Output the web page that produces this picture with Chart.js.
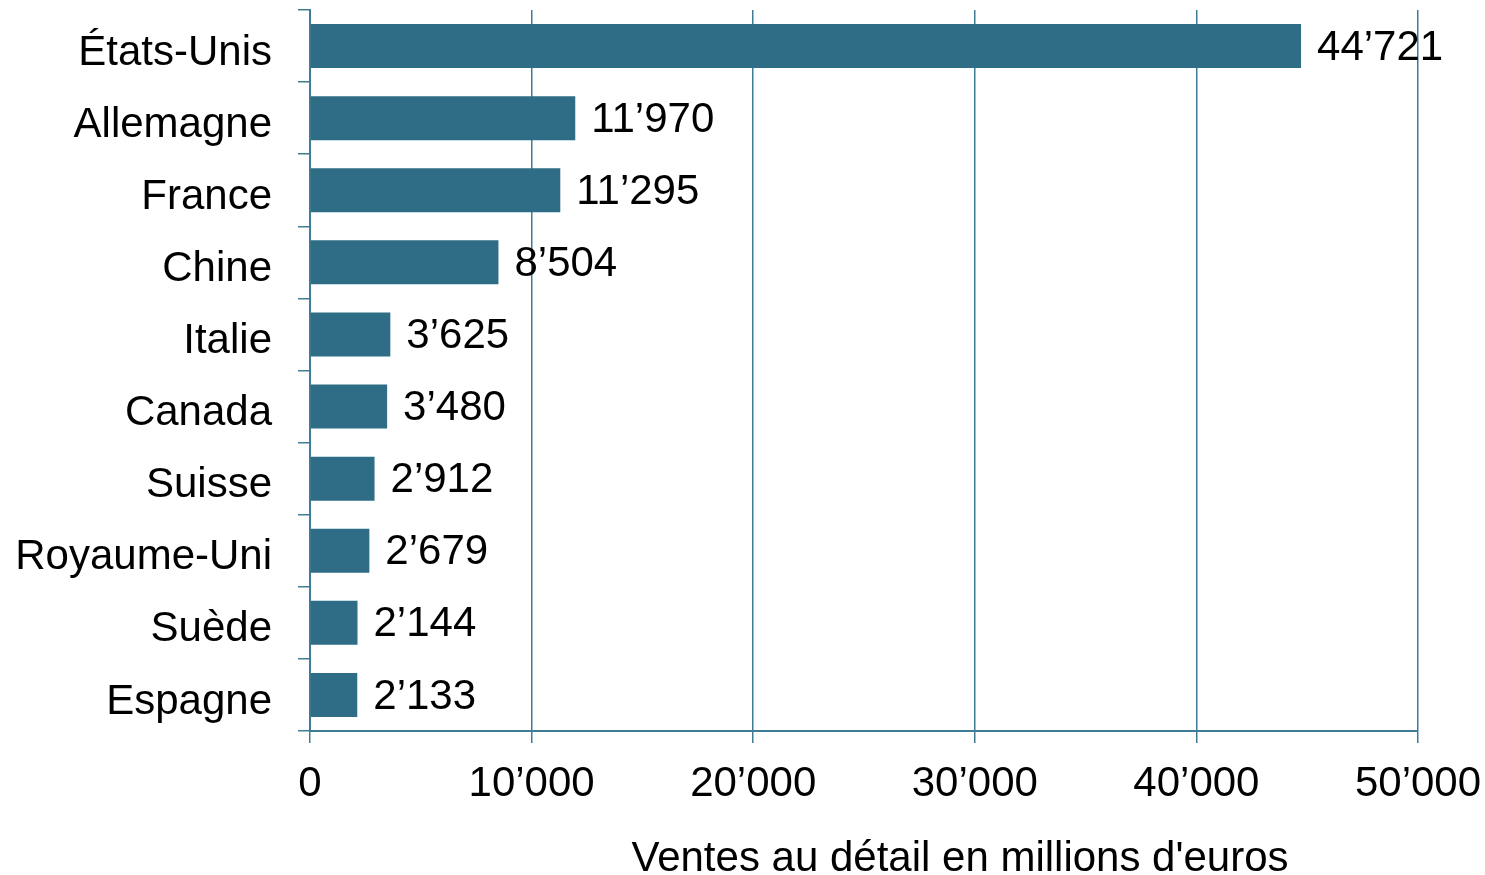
<!DOCTYPE html>
<html>
<head>
<meta charset="utf-8">
<script src="https://cdn.jsdelivr.net/npm/chart.js@4.4.1/dist/chart.umd.min.js"></script>
<style>
    html, body { margin: 0; padding: 0; background: #ffffff; }
    #wrap { width: 1485px; height: 875px; }
</style>
</head>
<body>
<div id="wrap"><canvas id="salesChart" width="1485" height="875"></canvas></div>
<script>
const countries = [
    "États-Unis",
    "Allemagne",
    "France",
    "Chine",
    "Italie",
    "Canada",
    "Suisse",
    "Royaume-Uni",
    "Suède",
    "Espagne",
];
const sales = [44721, 11970, 11295, 8504, 3625, 3480, 2912, 2679, 2144, 2133];
const xTicks = [0, 10000, 20000, 30000, 40000, 50000];
const axisTitle = "Ventes au détail en millions d'euros";

const barColor = "#2f6d86";
const lineColor = "#3f7d96";
const fontFamily = "'Liberation Sans', Arial, sans-serif";

// separateur des milliers avec apostrophe
function formatNumber(v) {
    return String(Math.round(v)).replace(/\B(?=(\d{3})+(?!\d))/g, "\u2019");
}

// etiquettes de valeur a droite des barres
const valueLabels = {
    id: "valueLabels",
    afterDatasetsDraw(chart) {
        const ctx = chart.ctx;
        const meta = chart.getDatasetMeta(0);
        ctx.save();
        ctx.font = "42px " + fontFamily;
        ctx.fillStyle = "#000000";
        ctx.textAlign = "left";
        ctx.textBaseline = "middle";
        meta.data.forEach((bar, i) => {
            ctx.fillText(formatNumber(sales[i]), bar.x + 16, bar.y + 2);
        });
        ctx.restore();
    },
};

// titre de l'axe x, decale vers la droite comme dans l'original
const axisTitlePlugin = {
    id: "axisTitlePlugin",
    afterDraw(chart) {
        const ctx = chart.ctx;
        const area = chart.chartArea;
        ctx.save();
        ctx.font = "42px " + fontFamily;
        ctx.fillStyle = "#000000";
        ctx.textAlign = "center";
        ctx.textBaseline = "middle";
        ctx.fillText(axisTitle, (area.left + area.right) / 2 + 96, 859);
        ctx.restore();
    },
};

const ctx = document.getElementById("salesChart").getContext("2d");

new Chart(ctx, {
    type: "bar",
    data: {
        labels: countries,
        datasets: [
            {
                data: sales,
                backgroundColor: barColor,
                borderWidth: 0,
                categoryPercentage: 1,
                barPercentage: 0.61,
            },
        ],
    },
    options: {
        indexAxis: "y",
        responsive: false,
        animation: false,
        layout: { padding: { top: 10, right: 67, left: 0, bottom: 0 } },
        plugins: {
            legend: { display: false },
            tooltip: { enabled: false },
        },
        scales: {
            x: {
                min: 0,
                max: 50000,
                afterFit(scale) {
                    scale.height = 144;
                    scale.paddingLeft = 0;
                    scale.paddingRight = 0;
                },
                afterBuildTicks(scale) {
                    scale.ticks = xTicks.map((v) => ({ value: v }));
                },
                ticks: {
                    color: "#000000",
                    font: { size: 42, family: fontFamily },
                    padding: 16,
                    maxRotation: 0,
                    callback: (v) => formatNumber(v),
                },
                grid: {
                    color: lineColor,
                    lineWidth: 1.5,
                    tickLength: 12,
                    drawTicks: true,
                },
                border: { color: lineColor, width: 2 },
            },
            y: {
                afterFit(scale) {
                    scale.width = 310;
                    scale.paddingTop = 0;
                    scale.paddingBottom = 0;
                },
                ticks: {
                    color: "#000000",
                    font: { size: 42, family: fontFamily },
                    padding: 26,
                    labelOffset: 7,
                },
                grid: {
                    offset: true,
                    drawOnChartArea: false,
                    drawTicks: true,
                    tickLength: 12,
                    color: lineColor,
                    lineWidth: 1.5,
                },
                border: { color: lineColor, width: 2 },
            },
        },
    },
    plugins: [valueLabels, axisTitlePlugin],
});
</script>
</body>
</html>
